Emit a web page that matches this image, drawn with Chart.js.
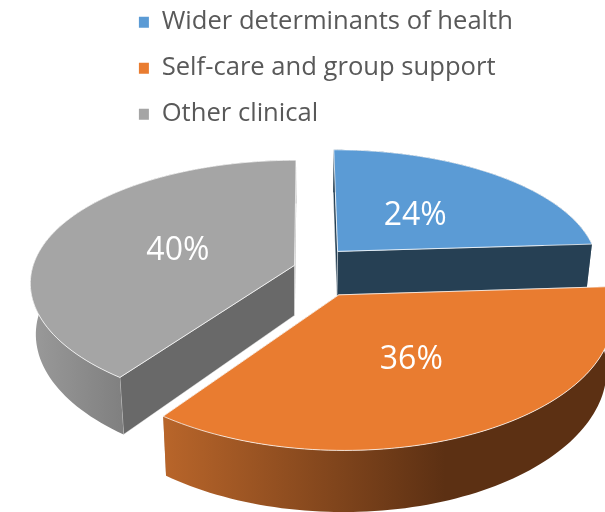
<!DOCTYPE html>
<html>
<head>
<meta charset="utf-8">
<style>html,body{margin:0;padding:0;background:#fff;overflow:hidden}canvas{display:block}</style>
<script src="https://cdn.jsdelivr.net/npm/chart.js@4/dist/chart.umd.min.js"></script>
</head>
<body>
<canvas id="c" width="605" height="512"></canvas>
<script>
const categories = ['Wider determinants of health', 'Self-care and group support', 'Other clinical'];
const shares = [24, 36, 40];
const explode = [47, 66, 12];
const labelReach = [0.47, 0.505, 0.48];
const topColors = ['#5b9bd5', '#e97c30', '#a5a5a5'];
const edgeColors = ['#264054', '#8a4a1c', '#696969'];
const wallStops = [['#264054', '#264054'], ['#b8652a', '#5c3013'], ['#9a9a9a', '#7f7f7f']];
const wallStopRange = [[337, 590], [165, 445], [30, 125]];
const drawOrder = [0, 2, 1];

const view = {cx: 306, cy: 267, R: 262, perspX: 0.14, perspY: 0.155, squash: 0.465, depth: 50, taper: 0.02};

function project(x, y, z) {
  const sx = 1 / (1 - view.perspX * y / view.R);
  const sy = 1 / (1 - view.perspY * y / view.R);
  return [view.cx + x * sx * (1 - view.taper * z), view.cy + view.squash * y * sy + z * view.depth * sy];
}
function polygon(ctx, pts) {
  ctx.beginPath();
  pts.forEach((p, i) => i ? ctx.lineTo(p[0], p[1]) : ctx.moveTo(p[0], p[1]));
  ctx.closePath();
}
function drawSlice(ctx, el, i) {
  const a0 = el.startAngle, a1 = el.endAngle, mid = (a0 + a1) / 2, off = el.options.offset;
  const ax = Math.cos(mid) * off, ay = Math.sin(mid) * off;
  const n = 90, rim = [];
  for (let k = 0; k <= n; k++) {
    const a = a0 + (a1 - a0) * k / n;
    rim.push([ax + Math.cos(a) * view.R, ay + Math.sin(a) * view.R]);
  }
  const at = (p, z) => project(p[0], p[1], z);
  const apex = [ax, ay];
  // radial walls
  [rim[0], rim[n]].forEach(p => {
    polygon(ctx, [at(apex, 0), at(p, 0), at(p, 1), at(apex, 1)]);
    ctx.fillStyle = edgeColors[i];
    ctx.fill();
    ctx.strokeStyle = 'rgba(255,255,255,0.55)';
    ctx.lineWidth = 0.8;
    ctx.stroke();
  });
  // outer wall
  const g = ctx.createLinearGradient(wallStopRange[i][0], 0, wallStopRange[i][1], 0);
  g.addColorStop(0, wallStops[i][0]);
  g.addColorStop(1, wallStops[i][1]);
  polygon(ctx, rim.map(p => at(p, 0)).concat(rim.slice().reverse().map(p => at(p, 1))));
  ctx.fillStyle = g;
  ctx.fill();
  // top face
  polygon(ctx, [at(apex, 0)].concat(rim.map(p => at(p, 0))));
  ctx.fillStyle = topColors[i];
  ctx.fill();
  ctx.strokeStyle = 'rgba(255,255,255,0.75)';
  ctx.lineWidth = 1;
  ctx.lineJoin = 'round';
  ctx.stroke();
  // value label
  const f = labelReach[i];
  const lp = project(ax + Math.cos(mid) * view.R * f, ay + Math.sin(mid) * view.R * f, 0);
  return {x: lp[0], y: lp[1], text: shares[i] + '%'};
}

const pie3d = {
  id: 'pie3d',
  afterLayout(chart) {
    const lg = chart.legend;
    const w = lg.width, h = lg.height;
    lg.left = 118.5; lg.right = lg.left + w;
    lg.top = -11; lg.bottom = lg.top + h;
    if (lg.adjustHitBoxes) lg.adjustHitBoxes();
  },
  beforeDatasetDraw(chart) {
    const ctx = chart.ctx, arcs = chart.getDatasetMeta(0).data;
    const labels = [];
    ctx.save();
    drawOrder.forEach(i => labels.push(drawSlice(ctx, arcs[i], i)));
    ctx.fillStyle = '#fff';
    ctx.font = '32px "Open Sans"';
    ctx.textAlign = 'center';
    ctx.textBaseline = 'middle';
    labels.forEach(l => ctx.fillText(l.text, l.x, l.y + 3));
    ctx.restore();
    return false;
  }
};

new Chart(document.getElementById('c'), {
  type: 'pie',
  plugins: [pie3d],
  data: {
    labels: categories,
    datasets: [{data: shares, backgroundColor: topColors, offset: explode, borderWidth: 0}]
  },
  options: {
    responsive: false,
    animation: false,
    events: [],
    plugins: {
      tooltip: {enabled: false},
      legend: {
        position: 'left',
        align: 'start',
        maxWidth: 600,
        labels: {
          font: {family: '"Open Sans"', size: 25.6},
          color: '#595959',
          boxWidth: 10,
          boxHeight: 11,
          padding: 20.4
        }
      }
    }
  }
});
</script>
</body>
</html>
